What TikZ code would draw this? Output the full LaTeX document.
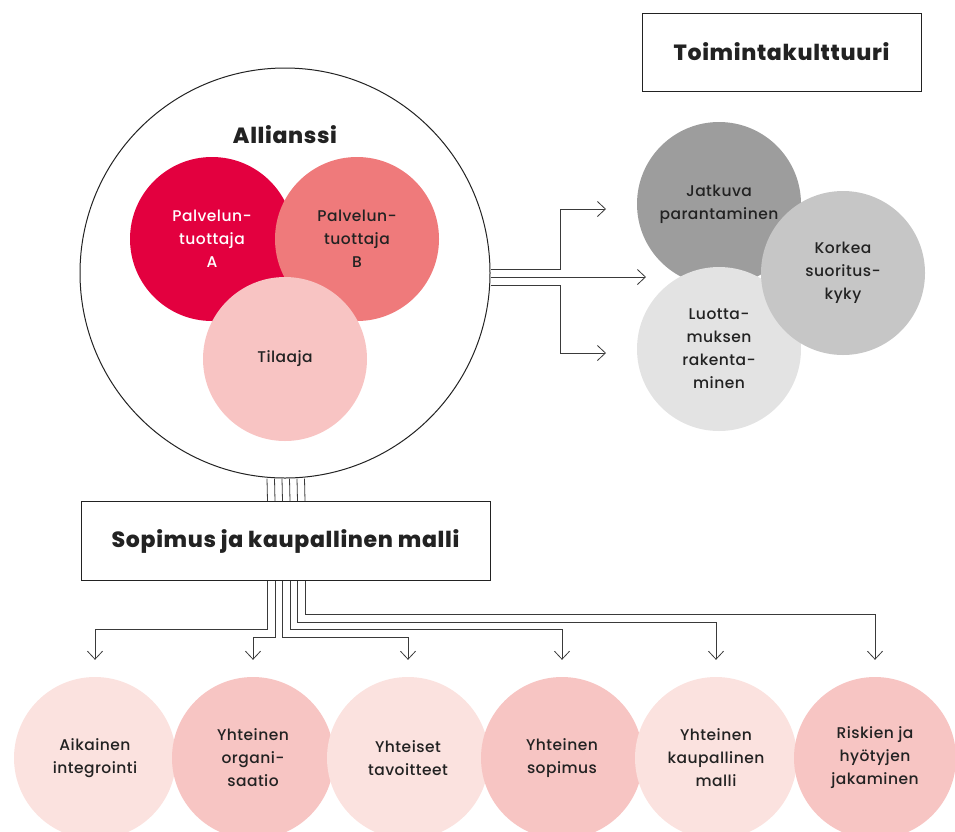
\documentclass[tikz,border=0pt]{standalone}
\usepackage{fontspec}
\setmainfont{Poppins}
\newfontfamily\leipa{Poppins Medium}[LetterSpace=3]
\newfontfamily\paksu{Poppins ExtraBold}[LetterSpace=3]
\usepackage{xcolor}
\usetikzlibrary{positioning,arrows.meta}
\definecolor{tumma}{HTML}{222222}
\definecolor{viiva}{HTML}{3A3A3A}
\definecolor{karmiini}{HTML}{E3003F}
\definecolor{lohi}{HTML}{EF7A7B}
\definecolor{vaaleapuna}{HTML}{F8C4C3}
\definecolor{vaalea}{HTML}{FBE2DF}
\definecolor{keski}{HTML}{F7C5C3}
\definecolor{harmaaA}{HTML}{9D9D9D}
\definecolor{harmaaB}{HTML}{C6C6C6}
\definecolor{harmaaC}{HTML}{E3E3E3}

\begin{document}
\begin{tikzpicture}[
x=1pt, y=-1pt,
pallo/.style={circle, inner sep=0pt, minimum size=164pt, align=center, font=\leipa\fontsize{15.5}{23}\selectfont, text=tumma},
alapallo/.style={pallo, minimum size=162pt},
otsikko/.style={font=\paksu\fontsize{22}{26}\selectfont, text=tumma},
laatikko/.style={draw=tumma, line width=0.9pt, minimum height=79pt, otsikko},
yhteys/.style={line width=0.8pt, draw=viiva},
arr/.style={-{Straight Barb[length=8pt,width=15pt]}, yhteys}
]
\useasboundingbox (0,0) rectangle (955,831);
\clip (0,0) rectangle (955,831);

% allianssi
\node[circle, draw=tumma, line width=1pt, minimum size=410pt, inner sep=0pt] (allianssi) at (285,273) {};
\node[otsikko] (allianssiotsikko) at (285,135) {Allianssi};
\node[pallo, fill=karmiini, text=white] (tuottajaA) at (212,239) {Palvelun-\\tuottaja\\A};
\node[pallo, fill=lohi] (tuottajaB) at (357,239) {Palvelun-\\tuottaja\\B};
\node[pallo, fill=vaaleapuna] (tilaaja) at (285,359) {Tilaaja};

% toimintakulttuuri
\node[laatikko, minimum width=279pt, minimum height=78pt] (toimintakulttuuri) at (781.5,52) {Toimintakulttuuri};
\node[pallo, fill=harmaaA] (jatkuva) at (719,204) {Jatkuva\\parantaminen};
\node[pallo, fill=harmaaC] (luottamus) at (719,349) {Luotta-\\muksen\\rakenta-\\minen};
\node[pallo, fill=harmaaB] (korkea) at (843,273) {Korkea\\suoritus-\\kyky};

% sopimus
\node[laatikko, minimum width=409pt] (sopimus) at (285.5,541) {Sopimus ja kaupallinen malli};

\node[alapallo, fill=vaalea] (aikainen) at (95,758) {Aikainen\\integrointi};
\node[alapallo, fill=keski] (organisaatio) at (253,758) {Yhteinen\\organi-\\saatio};
\node[alapallo, fill=vaalea] (tavoitteet) at (408,758) {Yhteiset\\tavoitteet};
\node[alapallo, fill=keski] (yhteinensopimus) at (562,758) {Yhteinen\\sopimus};
\node[alapallo, fill=vaalea] (kaupallinen) at (716,758) {Yhteinen\\kaupallinen\\malli};
\node[alapallo, fill=keski] (riskit) at (875,758) {Riskien ja\\hyötyjen\\jakaminen};

% yhteydet
\coordinate (ylanuoli) at (606,209);
\coordinate (keskinuoli) at (646,277);
\coordinate (alanuoli) at (606,353);
\draw[arr] ([yshift=4pt]allianssi.east) -- ++(70,0) |- (ylanuoli);
\draw[arr] ([yshift=-4pt]allianssi.east) -- (keskinuoli);
\draw[arr] ([yshift=-12pt]allianssi.east) -- ++(70,0) |- (alanuoli);

\foreach \d in {-18,-10.5,-3,4.5,12,19.5}
  \draw[yhteys] ([xshift=\d pt]allianssi.south) -- ([xshift=\d pt]sopimus.north);

\draw[arr] ([xshift=-18pt]sopimus.south) -- ++(0,48.5) -| ([yshift=17pt]aikainen.north);
\draw[arr] ([xshift=-10.5pt]sopimus.south) -- ++(0,56) -| ([yshift=17pt]organisaatio.north);
\draw[arr] ([xshift=-3pt]sopimus.south) -- ++(0,56) -| ([yshift=17pt]tavoitteet.north);
\draw[arr] ([xshift=4.5pt]sopimus.south) -- ++(0,48.5) -| ([yshift=17pt]yhteinensopimus.north);
\draw[arr] ([xshift=12pt]sopimus.south) -- ++(0,41) -| ([yshift=17pt]kaupallinen.north);
\draw[arr] ([xshift=19.5pt]sopimus.south) -- ++(0,33.5) -| ([yshift=17pt]riskit.north);
\end{tikzpicture}
\end{document}
